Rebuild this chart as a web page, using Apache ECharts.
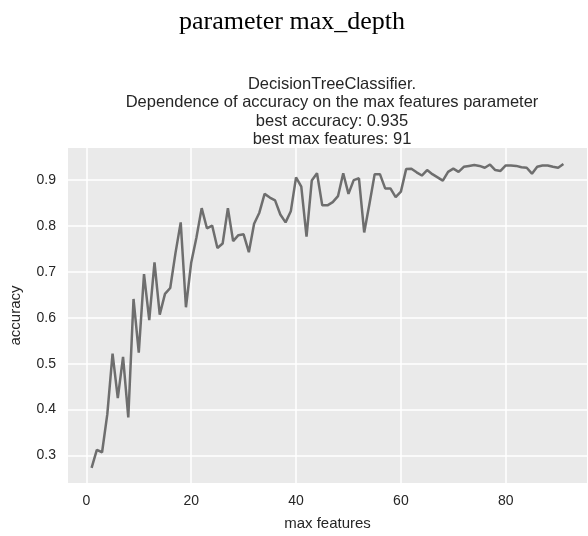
<!DOCTYPE html>
<html>
<head>
<meta charset="utf-8">
<script src="https://cdn.jsdelivr.net/npm/echarts@6/dist/echarts.min.js"></script>
<style>
  html, body { margin: 0; padding: 0; background: #fff; }
  #myChart { width: 588px; height: 536px; }
</style>
</head>
<body>
<div id="myChart"></div>
<script>
// accuracy for max_features = 1 .. 91
var accuracy = [
    0.273, 0.312, 0.307, 0.390, 0.522, 0.425, 0.515, 0.383, 0.641, 0.524,
    0.695, 0.595, 0.721, 0.607, 0.652, 0.665, 0.741, 0.808, 0.623, 0.720,
    0.775, 0.839, 0.795, 0.801, 0.752, 0.762, 0.839, 0.767, 0.780, 0.782,
    0.743, 0.805, 0.829, 0.870, 0.862, 0.856, 0.825, 0.808, 0.832, 0.906,
    0.886, 0.777, 0.899, 0.915, 0.845, 0.845, 0.852, 0.865, 0.915, 0.870,
    0.900, 0.904, 0.786, 0.848, 0.913, 0.913, 0.882, 0.882, 0.863, 0.875,
    0.924, 0.925, 0.917, 0.910, 0.922, 0.913, 0.906, 0.899, 0.918, 0.925,
    0.918, 0.929, 0.931, 0.933, 0.931, 0.927, 0.934, 0.922, 0.920, 0.932,
    0.932, 0.931, 0.928, 0.927, 0.914, 0.929, 0.932, 0.932, 0.929, 0.927,
    0.935
];
var firstFeature = 1;
var xTicks = [0, 20, 40, 60, 80];
var yTicks = [0.3, 0.4, 0.5, 0.6, 0.7, 0.8, 0.9];

var points = accuracy.map(function (v, i) {
    return [firstFeature + i, v];
});

var textColor = '#262626';
var font = '"Liberation Sans", Arial, sans-serif';

var myChart = echarts.init(document.getElementById('myChart'));

var option = {
    backgroundColor: '#ffffff',
    animation: false,
    title: [
        {
            text: 'parameter max_depth',
            left: 287,
            top: 4,
            textAlign: 'center',
            textStyle: {
                fontFamily: '"Liberation Serif", "Times New Roman", serif',
                fontWeight: 'normal',
                fontSize: 26,
                color: '#000'
            }
        },
        {
            text: 'DecisionTreeClassifier.\nDependence of accuracy on the max features parameter\nbest accuracy: 0.935\nbest max features: 91',
            left: 327,
            top: 70,
            textAlign: 'center',
            textStyle: {
                fontFamily: font,
                fontWeight: 'normal',
                fontSize: 16.5,
                lineHeight: 18.5,
                color: textColor
            }
        }
    ],
    grid: {
        left: 67,
        right: 1,
        top: 148,
        bottom: 50,
        show: true,
        backgroundColor: '#eaeaea',
        borderWidth: 0
    },
    xAxis: {
        type: 'value',
        min: -3.5,
        max: 95.5,
        name: 'max features',
        nameLocation: 'middle',
        nameGap: 33,
        nameTextStyle: { fontFamily: font, fontSize: 15, color: textColor },
        axisLine: { show: false },
        axisTick: { show: false, customValues: xTicks },
        axisLabel: {
            margin: 11,
            fontFamily: font,
            fontSize: 14,
            color: textColor,
            customValues: xTicks
        },
        splitLine: { show: true, lineStyle: { color: '#ffffff', width: 1.5 } }
    },
    yAxis: {
        type: 'value',
        min: 0.24,
        max: 0.97,
        name: 'accuracy',
        nameLocation: 'middle',
        nameGap: 45,
        nameTextStyle: { fontFamily: font, fontSize: 15, color: textColor },
        axisLine: { show: false },
        axisTick: { show: false, customValues: yTicks },
        axisLabel: {
            margin: 12,
            fontFamily: font,
            fontSize: 14,
            color: textColor,
            customValues: yTicks,
            formatter: function (v) { return v.toFixed(1); }
        },
        splitLine: { show: true, lineStyle: { color: '#ffffff', width: 1.5 } }
    },
    series: [
        {
            name: 'accuracy',
            type: 'line',
            data: points,
            showSymbol: false,
            lineStyle: { color: '#6e6e6e', width: 2.5 },
            z: 3
        }
    ]
};

myChart.setOption(option);
window.onresize = function () {
    myChart.resize();
};
</script>
</body>
</html>
